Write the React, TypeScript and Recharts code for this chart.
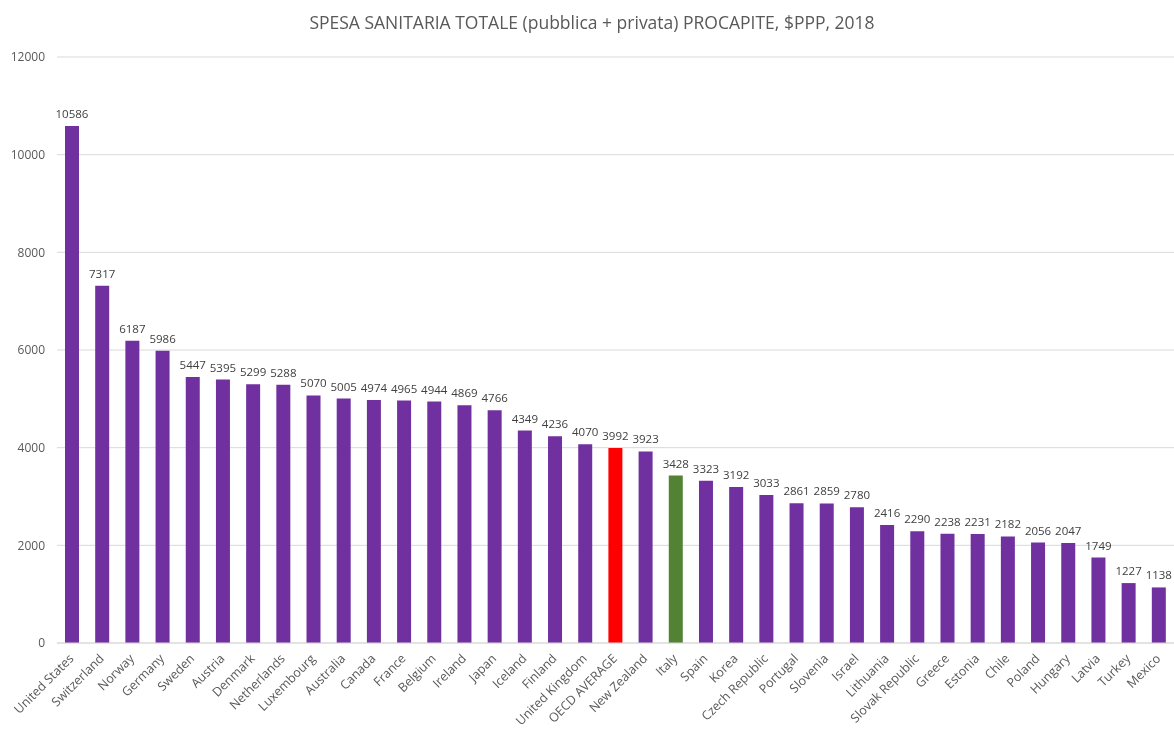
import React from "react";
import { BarChart, Bar, XAxis, YAxis, CartesianGrid, LabelList, Cell } from "recharts";

const countries = [
  "United States", "Switzerland", "Norway", "Germany", "Sweden", "Austria", "Denmark",
  "Netherlands", "Luxembourg", "Australia", "Canada", "France", "Belgium", "Ireland",
  "Japan", "Iceland", "Finland", "United Kingdom", "OECD AVERAGE", "New Zealand", "Italy",
  "Spain", "Korea", "Czech Republic", "Portugal", "Slovenia", "Israel", "Lithuania",
  "Slovak Republic", "Greece", "Estonia", "Chile", "Poland", "Hungary", "Latvia",
  "Turkey", "Mexico",
];
const spending = [
  10586, 7317, 6187, 5986, 5447, 5395, 5299, 5288, 5070, 5005, 4974, 4965, 4944, 4869,
  4766, 4349, 4236, 4070, 3992, 3923, 3428, 3323, 3192, 3033, 2861, 2859, 2780, 2416,
  2290, 2238, 2231, 2182, 2056, 2047, 1749, 1227, 1138,
];
const yTicks = [0, 2000, 4000, 6000, 8000, 10000, 12000];
const title = "SPESA SANITARIA TOTALE (pubblica + privata) PROCAPITE, $PPP, 2018";

const PURPLE = "#7030A0";
const RED = "#FF0000";
const GREEN = "#548235";

const data = countries.map((c, i) => ({ name: c, value: spending[i] }));
const colorFor = (name: string) =>
  name === "OECD AVERAGE" ? RED : name === "Italy" ? GREEN : PURPLE;

const FONT = "'Open Sans', sans-serif";

const XTick = (props: any) => {
  const { x, y, payload } = props;
  return (
    <g transform={`translate(${x},${y + 6})`}>
      <text
        transform="rotate(-45)"
        textAnchor="end"
        dominantBaseline="middle"
        fill="#595959"
        fontSize={12.5}
        fontFamily={FONT}
      >
        {payload.value}
      </text>
    </g>
  );
};

const TopLabel = (props: any) => {
  const { x, y, width, value } = props;
  return (
    <text
      x={x + width / 2}
      y={y - 8}
      textAnchor="middle"
      fill="#404040"
      fontSize={11.5}
      fontFamily={FONT}
    >
      {value}
    </text>
  );
};

export default function App() {
  return (
    <div style={{ position: "fixed", left: 8, top: 8, width: 1166, height: 715 }}>
      <style>{`.recharts-surface{overflow:visible}`}</style>
      <div
        style={{
          position: "absolute",
          top: 2,
          left: 0,
          width: 1168,
          textAlign: "center",
          fontFamily: FONT,
          fontSize: 17.5,
          color: "#595959",
        }}
      >
        {title}
      </div>
      <BarChart
        width={1166}
        height={715}
        data={data}
        margin={{ top: 49, right: 0, bottom: 0, left: 9 }}
      >
        <CartesianGrid vertical={false} stroke="#d9d9d9" />
        <XAxis
          dataKey="name"
          interval={0}
          height={80}
          tick={<XTick />}
          tickLine={false}
          axisLine={{ stroke: "#d9d9d9" }}
        />
        <YAxis
          domain={[0, 12000]}
          ticks={yTicks}
          width={40}
          tickLine={false}
          axisLine={false}
          tickSize={0}
          tickMargin={12}
          tick={{ fill: "#595959", fontSize: 12, fontFamily: FONT }}
        />
        <Bar dataKey="value" barSize={14} isAnimationActive={false}>
          {data.map((d) => (
            <Cell key={d.name} fill={colorFor(d.name)} />
          ))}
          <LabelList dataKey="value" content={<TopLabel />} />
        </Bar>
      </BarChart>
    </div>
  );
}
